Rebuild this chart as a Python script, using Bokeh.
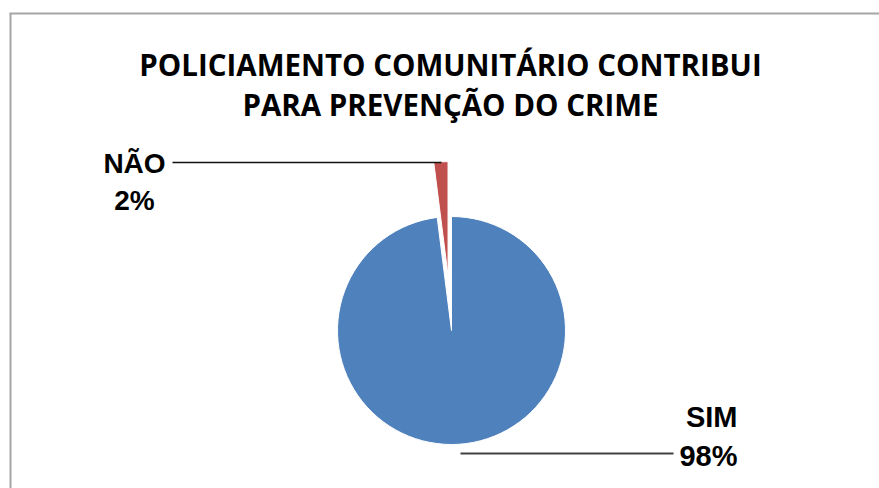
import math
from bokeh.plotting import figure
from bokeh.models import Range1d, ColumnDataSource
from bokeh.core.properties import value
from bokeh.embed import file_html
from bokeh.resources import INLINE

# ---- data ----
categories = ["SIM", "NÃO"]
percent = [98, 2]
colors = ["#4F81BD", "#C0504D"]
title_lines = ["POLICIAMENTO COMUNITÁRIO CONTRIBUI", "PARA PREVENÇÃO DO CRIME"]

W, H = 879, 488
p = figure(width=W, height=H, output_backend="svg", toolbar_location=None,
           x_range=Range1d(0, W), y_range=Range1d(0, H),
           x_axis_type=None, y_axis_type=None, min_border=0)
p.outline_line_color = None
p.grid.visible = False
p.background_fill_color = "white"
p.border_fill_color = "white"

def Y(py):
    return H - py

# chart border (top & left visible)
p.segment(x0=[9, 10], y0=[Y(13), Y(13)], x1=[W, 10], y1=[Y(13), 0],
          line_color="#a6a6a6", line_width=2)

# title
p.text(x=[450, 450], y=[Y(64), Y(104)], text=title_lines,
       text_align="center", text_baseline="alphabetic",
       text_font=value("Open Sans"), text_font_style="bold",
       text_font_size="29.5px", text_color="black")

# pie
cx, cy = 451, Y(330)
R = 114
explode = [0, 55]
total = sum(percent)
start = math.pi / 2
xs, ys, sa, ea = [], [], [], []
# slices go clockwise from 12 o'clock
ang = start
for v, e in zip(percent, explode):
    sweep = 2 * math.pi * v / total
    end = ang - sweep
    mid = (ang + end) / 2
    xs.append(cx + e * math.cos(mid))
    ys.append(cy + e * math.sin(mid))
    sa.append(end)
    ea.append(ang)
    ang = end
src = ColumnDataSource(dict(x=xs, y=ys, sa=sa, ea=ea, color=colors, cat=categories))
p.wedge(x="x", y="y", radius=R, radius_units="screen", start_angle="sa", end_angle="ea",
        fill_color="color", line_color="white", line_width=1, source=src)

# leader lines
p.segment(x0=[172, 460], y0=[Y(162), Y(453)], x1=[441, 673], y1=[Y(162), Y(453)],
          line_color=["#111111", "#404040"], line_width=[1.5, 2])

# labels
lab_font = value("Liberation Sans")
p.text(x=[134, 134], y=[Y(163), Y(200)], text=[categories[1], f"{percent[1]}%"],
       text_align="center", text_baseline="alphabetic", text_font=lab_font,
       text_font_style="bold", text_font_size="28px", text_color="black")
p.text(x=[737, 737], y=[Y(416), Y(455)], text=[categories[0], f"{percent[0]}%"],
       text_align="right", text_baseline="alphabetic", text_font=lab_font,
       text_font_style="bold", text_font_size="29px", text_color="black")

open("out.html", "w").write(file_html(p, INLINE))
